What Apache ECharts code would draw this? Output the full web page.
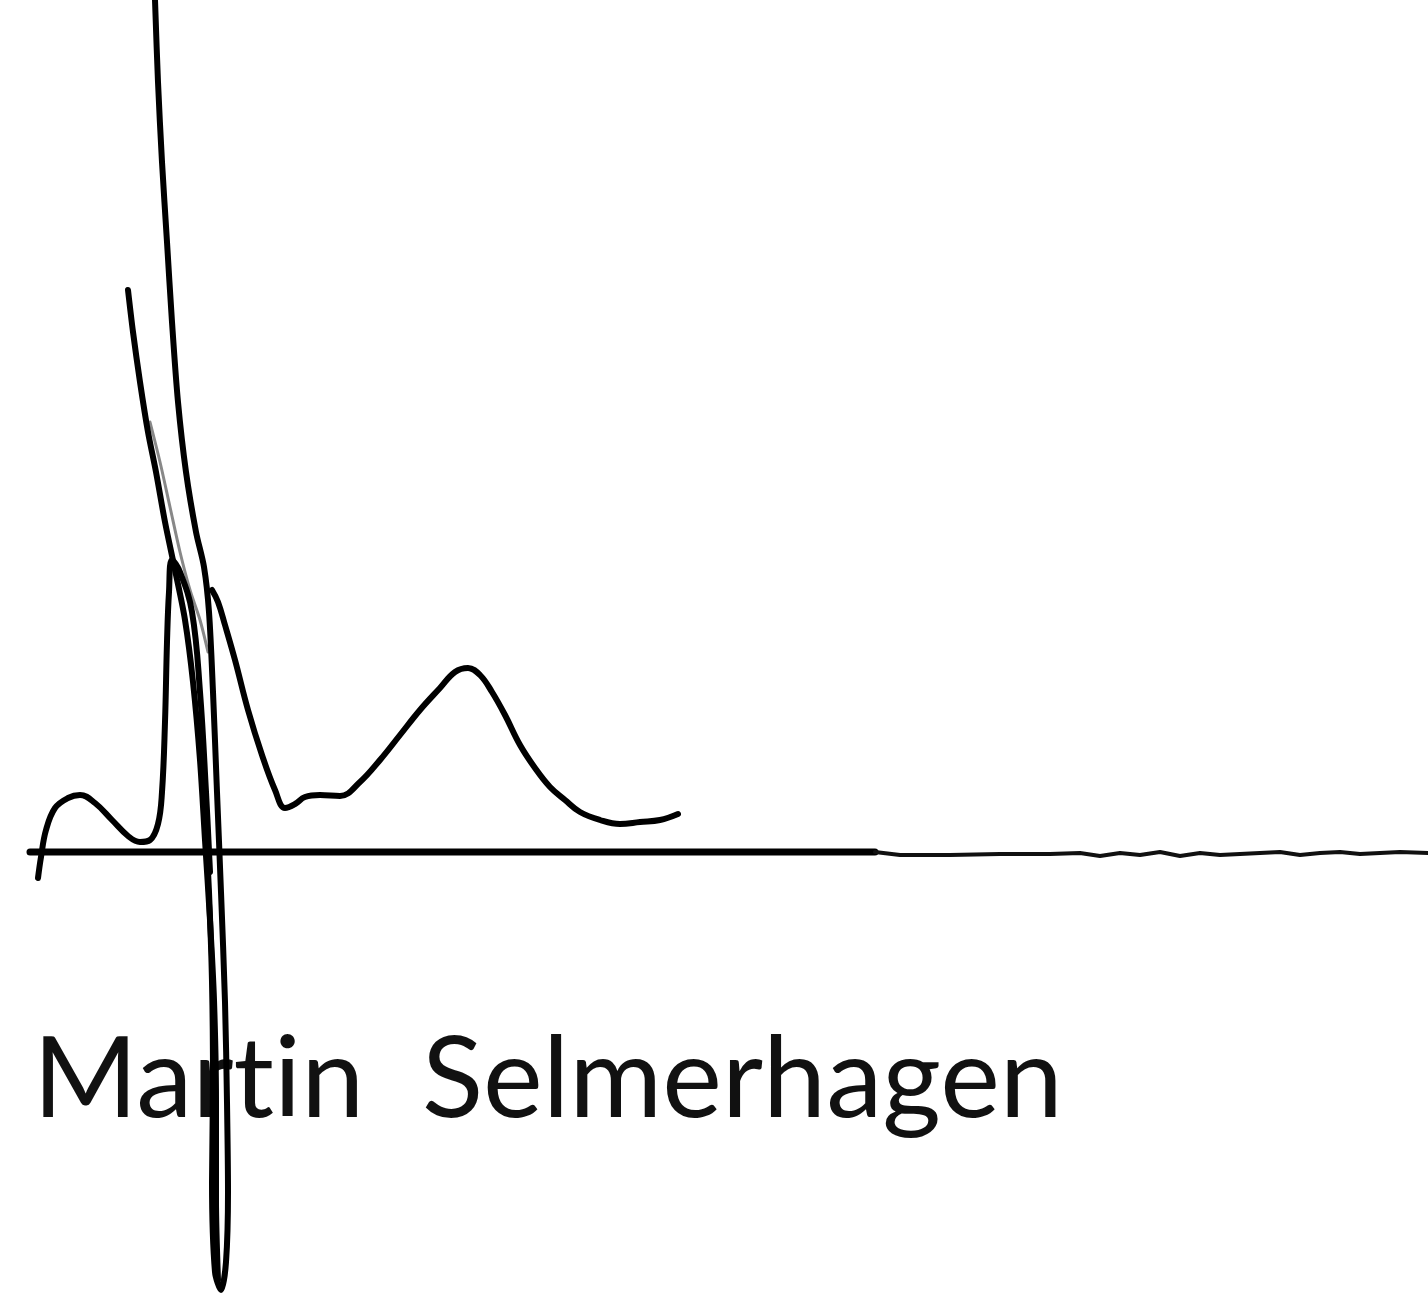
<!DOCTYPE html>
<html>
<head>
<meta charset="utf-8">
<title>Martin Selmerhagen</title>
<script src="https://cdn.jsdelivr.net/npm/echarts@6/dist/echarts.min.js"></script>
<style>
  html, body { margin: 0; padding: 0; background: #fff; }
  #chart { width: 1428px; height: 1299px; }
</style>
</head>
<body>
<div id="chart"></div>
<script>
// amplitude relative to the baseline (up = positive), time in samples
const smallWave = [
  [38, -26], [41, -5], [46, 22], [55, 44], [68, 54], [80, 57], [95, 49], [112, 32],
  [128, 16], [140, 10], [150, 12], [158, 28], [162, 60], [165, 130], [167, 210],
  [169, 260], [172, 292], [180, 280], [192, 240], [200, 160], [206, 60], [210, -20]
]
const tallBeat = [
  [155, 852], [158, 770], [162, 690], [167, 610], [172, 530], [178, 450], [186, 380],
  [196, 320], [204, 285], [209, 240], [213, 160], [217, 60], [221, -40], [225, -150],
  [227, -250], [228, -340], [226, -410], [221, -438], [215, -420], [212, -330],
  [213, -230], [212, -130], [209, -40], [205, 40], [202, 100]
]
const earlyBeat = [
  [128, 562], [133, 520], [140, 470], [148, 420], [156, 380], [165, 330], [175, 282],
  [185, 232], [193, 170], [200, 92], [205, 12], [210, -68], [214, -148], [216, -248],
  [216, -348], [218, -428]
]
const echoBeat = [
  [150, 430], [160, 390], [170, 345], [180, 300], [190, 262], [200, 232], [208, 200]
]
const secondWave = [
  [212, 262], [218, 250], [225, 227], [235, 192], [248, 142], [262, 97], [275, 62],
  [285, 44], [295, 48], [305, 55], [320, 57], [340, 56], [360, 70], [380, 92],
  [400, 117], [420, 142], [440, 164], [455, 180], [468, 184], [480, 177], [492, 160],
  [505, 137], [520, 107], [535, 84], [550, 65], [565, 52], [580, 40], [600, 32],
  [620, 28], [640, 30], [660, 32], [678, 38]
]
const baseline = [[30, 0], [875, 0]]
const tailNoise = [
  [875, 0], [900, -3], [950, -3], [1000, -2], [1050, -2], [1080, -1], [1100, -4],
  [1120, -1], [1140, -3], [1160, 0], [1180, -4], [1200, -1], [1220, -3], [1240, -2],
  [1260, -1], [1280, 0], [1300, -3], [1320, -1], [1340, 0], [1360, -2], [1380, -1],
  [1400, 0], [1428, -1]
]
// zero-width non-joiner keeps "t" and "i" as separate glyphs
const signature = 'Mart\u200Cin  Selmerhagen'

const chart = echarts.init(document.getElementById('chart'))

function trace(data, width, color, smooth) {
  return {
    type: 'line',
    data: data,
    showSymbol: false,
    smooth: smooth,
    lineStyle: { color: color, width: width, cap: 'round', join: 'round' },
    silent: true
  }
}

chart.setOption({
  animation: false,
  backgroundColor: '#fff',
  grid: { left: 0, right: 0, top: 0, bottom: 0 },
  xAxis: { type: 'value', min: 0, max: 1428, show: false },
  yAxis: { type: 'value', min: -447, max: 852, show: false },
  graphic: [{
    type: 'text',
    left: 33,
    top: 1024,
    style: {
      text: signature,
      fill: '#111',
      font: '113px Lato, "Open Sans", sans-serif'
    }
  }],
  series: [
    trace(baseline, 7, '#000', false),
    trace(tailNoise, 4, '#111', false),
    trace(echoBeat, 3, '#888', 0.3),
    trace(smallWave, 6, '#000', 0.4),
    trace(earlyBeat, 6, '#000', 0.3),
    trace(tallBeat, 6, '#000', 0.3),
    trace(secondWave, 6, '#000', 0.4)
  ]
})
</script>
</body>
</html>
